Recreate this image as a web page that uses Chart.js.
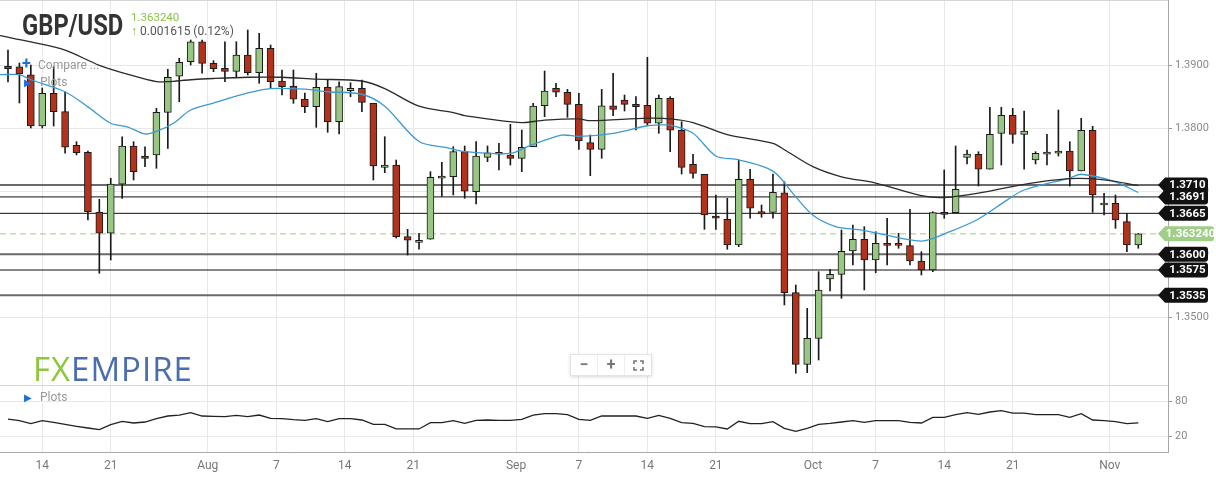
<!DOCTYPE html>
<html>
<head>
<meta charset="utf-8">
<script src="https://cdn.jsdelivr.net/npm/chart.js@4.4.1/dist/chart.umd.min.js"></script>
<style>
    body { margin: 0; background: #fff; font-family: Roboto, "Noto Sans", sans-serif; }
    #wrap { position: relative; width: 1216px; height: 481px; overflow: hidden; background: #fff; }
    canvas { position: absolute; left: 0; }
    #main { top: 0; }
    #sub { top: 386px; }
    .ov { position: absolute; white-space: nowrap; line-height: 1; }
    .sep { position: absolute; left: 0; width: 1168px; height: 1px; background: #d6d6d6; }
    #title { left: 22px; top: 11px; font-size: 29px; font-weight: 700; color: #333; transform: scaleX(0.82); transform-origin: left top; }
    #last { left: 131px; top: 12px; font-size: 11.5px; color: #8bc34a; }
    #chg { left: 131px; top: 25px; font-size: 12px; color: #555; }
    #chg .up { color: #6fb83a; font-weight: 700; margin-right: 3px; }
    .menu { font-size: 12px; color: #999; }
    .menu .plus { color: #1e6fd9; font-weight: 700; font-size: 16px; display: inline-block; width: 16px; }
    .menu .tri { color: #1e6fd9; font-size: 10px; display: inline-block; width: 16px; padding-left: 2px; }
    #logo { left: 33px; top: 352px; font-family: "Open Sans", sans-serif; font-size: 33px; color: #4a6db0; letter-spacing: 1px; }
    #logo .fx { color: #8dc63f; }
    #zoombox { left: 570px; top: 354px; width: 80px; height: 20px; background: #fff; border: 1px solid #e4e4e4;
               box-shadow: 0 1px 3px rgba(0,0,0,0.15); display: flex; }
    #zoombox span { flex: 1; text-align: center; color: #777; font-size: 16px; line-height: 20px; font-weight: 700; border-right: 1px solid #eee; }
    #zoombox span:last-child { border-right: none; }
</style>
</head>
<body>
<div id="wrap">
    <canvas id="main" width="1216" height="386"></canvas>
    <canvas id="sub" width="1216" height="95"></canvas>
    <div class="sep" style="top:0px"></div>
    <div class="sep" style="top:385px"></div>
    <div class="ov" id="title">GBP/USD</div>
    <div class="ov" id="last">1.363240</div>
    <div class="ov" id="chg"><span class="up">↑</span>0.001615 (0.12%)</div>
    <div class="ov menu" style="left:22px; top:56px"><span class="plus">+</span>Compare ...</div>
    <div class="ov menu" style="left:22px; top:76px"><span class="tri">▶</span>Plots</div>
    <div class="ov menu" style="left:22px; top:391px"><span class="tri">▶</span>Plots</div>
    <div class="ov" id="logo"><span class="fx">FX</span>EMPIRE</div>
    <div class="ov" id="zoombox">
        <span>−</span><span>+</span>
        <span><svg width="11" height="11" viewBox="0 0 11 11" style="vertical-align:-1px"><path d="M1 4V1h3M7 1h3v3M10 7v3H7M4 10H1V7" fill="none" stroke="#777" stroke-width="1.6"/></svg></span>
    </div>
</div>

<script>
// ---- daily candles, GBP/USD (one entry per session) ----
const opens = [
    1.38984, 1.38977, 1.38850, 1.38036, 1.38555, 1.38263, 1.37730, 1.37619, 1.36666, 1.36333,
    1.37111, 1.37719, 1.37560, 1.37576, 1.38253, 1.38825, 1.39057, 1.39374, 1.39031, 1.38952,
    1.38904, 1.39163, 1.38882, 1.39269, 1.38750, 1.38671, 1.38465, 1.38342, 1.38650, 1.38104,
    1.38596, 1.38634, 1.38396, 1.37380, 1.37417, 1.36279, 1.36190, 1.36238, 1.37206, 1.37231,
    1.37628, 1.36993, 1.37539, 1.37612, 1.37576, 1.37523, 1.37707, 1.38358, 1.38634, 1.38571,
    1.38380, 1.37771, 1.37666, 1.38358, 1.38449, 1.38380, 1.38364, 1.38079, 1.38476, 1.37968,
    1.37428, 1.37269, 1.36607, 1.36555, 1.36147, 1.37190, 1.36676, 1.36666, 1.36977, 1.35390,
    1.34253, 1.34666, 1.35607, 1.35682, 1.36052, 1.36238, 1.35909, 1.36174, 1.36174, 1.36136,
    1.35893, 1.35750, 1.36666, 1.36660, 1.37539, 1.37587, 1.37349, 1.37920, 1.38206, 1.37904,
    1.37496, 1.37587, 1.37603, 1.37639, 1.37322, 1.37968, 1.36782, 1.36809, 1.36517, 1.36147
];
const highs = [
    1.39242, 1.39036, 1.39004, 1.38639, 1.38977, 1.38580, 1.37787, 1.37639, 1.36872, 1.37206,
    1.37866, 1.37787, 1.37707, 1.38317, 1.38936, 1.39111, 1.39401, 1.39401, 1.39073, 1.39374,
    1.39374, 1.39560, 1.39507, 1.39322, 1.38925, 1.38925, 1.38560, 1.38873, 1.38777, 1.38739,
    1.38723, 1.38766, 1.38396, 1.37866, 1.37496, 1.36396, 1.36333, 1.37311, 1.37460, 1.37707,
    1.37719, 1.37787, 1.37719, 1.37761, 1.38063, 1.37972, 1.38396, 1.38909, 1.38714, 1.38618,
    1.38555, 1.37893, 1.38618, 1.38873, 1.38528, 1.38501, 1.39127, 1.38528, 1.38501, 1.38104,
    1.37587, 1.37269, 1.36941, 1.36888, 1.37496, 1.37349, 1.36782, 1.37274, 1.37152, 1.35512,
    1.35142, 1.35724, 1.35761, 1.36385, 1.36465, 1.36438, 1.36358, 1.36571, 1.36333, 1.36714,
    1.36041, 1.36676, 1.37338, 1.37719, 1.37655, 1.37628, 1.38333, 1.38333, 1.38317, 1.38274,
    1.37628, 1.37904, 1.38290, 1.37787, 1.38158, 1.38031, 1.36968, 1.36941, 1.36650, 1.36330
];
const lows = [
    1.38734, 1.38401, 1.38004, 1.38004, 1.38036, 1.37603, 1.37576, 1.36544, 1.35698, 1.35909,
    1.36888, 1.37179, 1.37390, 1.37365, 1.37682, 1.38422, 1.39004, 1.38873, 1.38898, 1.38739,
    1.38818, 1.38846, 1.38714, 1.38634, 1.38528, 1.38396, 1.38247, 1.38015, 1.37936, 1.37909,
    1.38501, 1.38263, 1.37179, 1.37295, 1.36258, 1.35988, 1.36079, 1.36238, 1.36917, 1.36941,
    1.36888, 1.36798, 1.37469, 1.37338, 1.37417, 1.37311, 1.37707, 1.38184, 1.38501, 1.38174,
    1.37666, 1.37247, 1.37523, 1.38200, 1.38274, 1.37972, 1.38052, 1.37920, 1.37628, 1.37274,
    1.37206, 1.36396, 1.36396, 1.36079, 1.36120, 1.36571, 1.36587, 1.36571, 1.35195, 1.34111,
    1.34120, 1.34322, 1.35417, 1.35301, 1.35830, 1.35433, 1.35707, 1.35830, 1.36095, 1.35830,
    1.35671, 1.35723, 1.36571, 1.36655, 1.37433, 1.37083, 1.37349, 1.37417, 1.37761, 1.37349,
    1.37433, 1.37417, 1.37560, 1.37083, 1.37322, 1.36666, 1.36623, 1.36412, 1.36041, 1.36095
];
const closes = [
    1.38946, 1.38861, 1.38036, 1.38555, 1.38263, 1.37698, 1.37612, 1.36676, 1.36333, 1.37115,
    1.37719, 1.37311, 1.37523, 1.38253, 1.38809, 1.39047, 1.39374, 1.39031, 1.38946, 1.38904,
    1.39163, 1.38882, 1.39269, 1.38739, 1.38660, 1.38460, 1.38342, 1.38650, 1.38104, 1.38660,
    1.38634, 1.38412, 1.37401, 1.37417, 1.36279, 1.36222, 1.36222, 1.37222, 1.37242, 1.37628,
    1.37000, 1.37560, 1.37612, 1.37587, 1.37523, 1.37698, 1.38353, 1.38592, 1.38571, 1.38380,
    1.37798, 1.37666, 1.38358, 1.38301, 1.38380, 1.38342, 1.38079, 1.38476, 1.37968, 1.37380,
    1.37285, 1.36623, 1.36571, 1.36147, 1.37190, 1.36730, 1.36639, 1.36984, 1.35390, 1.34253,
    1.34666, 1.35433, 1.35682, 1.36047, 1.36238, 1.35909, 1.36174, 1.36142, 1.36142, 1.35893,
    1.35750, 1.36660, 1.36634, 1.37031, 1.37591, 1.37349, 1.37904, 1.38206, 1.37904, 1.37957,
    1.37603, 1.37623, 1.37639, 1.37322, 1.37968, 1.36941, 1.36809, 1.36544, 1.36147, 1.36324
];

// ---- moving averages (position in sessions, value) ----
const maSlowX = [-0.7, 2, 5, 8, 11, 13, 14, 16, 18, 21, 24, 27, 31, 33, 36, 39, 40, 45, 47, 50,
                 51, 56, 58, 60, 63, 67, 68, 70.5, 73, 76, 80, 82, 85, 89, 93, 96, 99];
const maSlowY = [1.3947, 1.3937, 1.3924, 1.3900, 1.3883, 1.3874, 1.3874, 1.3877, 1.3879, 1.3881,
                 1.3881, 1.3878, 1.3875, 1.3863, 1.3835, 1.3825, 1.3820, 1.3809, 1.3813, 1.3815,
                 1.3812, 1.3816, 1.3815, 1.3809, 1.3790, 1.3776, 1.3766, 1.3739, 1.3723, 1.3713,
                 1.3693, 1.3690, 1.3697, 1.3711, 1.3720, 1.3718, 1.3709];
const maFastX = [-0.7, 1, 2, 5, 7, 9, 10.5, 12, 13, 14.5, 16, 18, 21, 23, 26, 28, 31, 33, 36, 38.5,
                 40, 44, 45.5, 48.5, 50, 53, 56, 57, 58, 60, 62, 64, 67, 69, 70.5, 72.5, 74.5, 76,
                 80, 82.5, 85, 87.5, 89, 93, 94, 97, 99];
const maFastY = [1.3885, 1.3885, 1.3877, 1.3858, 1.3834, 1.3808, 1.3802, 1.3791, 1.3795, 1.3808,
                 1.3829, 1.3840, 1.3856, 1.3863, 1.3862, 1.3858, 1.3854, 1.3835, 1.3779, 1.3769,
                 1.3763, 1.3760, 1.3771, 1.3789, 1.3787, 1.3792, 1.3804, 1.3805, 1.3805, 1.3792,
                 1.3756, 1.3750, 1.3732, 1.3691, 1.3662, 1.3644, 1.3639, 1.3634, 1.3621, 1.3636,
                 1.3656, 1.3686, 1.3702, 1.3721, 1.3727, 1.3715, 1.3698];

// ---- oscillator in lower panel ----
const oscValues = [
    49.5, 47.0, 41.6, 46.8, 43.9, 40.4, 37.0, 34.0, 31.1, 39.8,
    45.7, 42.8, 44.5, 50.3, 55.0, 56.7, 60.8, 55.0, 54.4, 53.8,
    56.2, 53.8, 56.7, 50.9, 50.3, 48.6, 47.4, 50.3, 45.1, 50.3,
    50.3, 48.0, 40.4, 40.4, 32.3, 32.3, 32.3, 43.3, 43.3, 46.8,
    42.2, 47.4, 48.0, 47.4, 47.4, 49.2, 56.7, 59.1, 59.1, 57.3,
    49.2, 47.4, 55.0, 55.0, 55.0, 55.0, 50.9, 56.2, 50.9, 43.3,
    42.2, 36.4, 35.8, 32.3, 45.7, 41.6, 41.6, 45.1, 33.5, 28.2,
    33.5, 40.4, 42.2, 44.5, 46.8, 43.9, 46.8, 46.8, 46.8, 43.9,
    42.8, 52.7, 52.7, 57.3, 60.8, 57.9, 62.0, 64.3, 60.2, 60.2,
    57.3, 57.3, 57.3, 52.7, 59.1, 48.0, 46.8, 45.1, 41.6, 42.8
];

// ---- support / resistance levels and last price ----
const levels = [1.3710, 1.3691, 1.3665, 1.3600, 1.3575, 1.3535];
const lastPrice = 1.36324;

// ---- axes ----
const dateTickPos = [3, 9, 17.5, 23.5, 29.5, 35.5, 44.5, 50, 56, 62, 70.5, 76, 82, 88, 96.5];
const dateTickLabels = ['14', '21', 'Aug', '7', '14', '21', 'Sep', '7', '14', '21', 'Oct', '7', '14', '21', 'Nov'];
const priceTicks = [1.35, 1.36, 1.37, 1.38, 1.39];
const oscTicks = [20, 80];

// --- layout / style ---
const X_MIN = -0.7, X_MAX = 101.6;
const Y_MAX = 1.40036, Y_MIN = 1.33909;
const UP = '#98c784', DOWN = '#b3321b';
const GRID = '#e8e8e8';
const heavyLevels = [1.3710, 1.3600, 1.3535];

const wickData = lows.map((l, i) => ({ x: i, y: [l, highs[i]] }));
const bodyData = opens.map((o, i) => ({ x: i, y: [o, closes[i]] }));
const bodyColors = opens.map((o, i) => closes[i] >= o ? UP : DOWN);

const levelSets = levels.map(lv => ({
    type: 'line',
    data: [{ x: X_MIN, y: lv }, { x: X_MAX, y: lv }],
    borderColor: heavyLevels.includes(lv) ? '#6a6a6a' : '#111',
    borderWidth: heavyLevels.includes(lv) ? 2 : 1,
    pointRadius: 0,
    order: 5
}));

const rightAxisFit = (w) => (s) => { s.width = w; s.paddingTop = 0; s.paddingBottom = 0; };

function drawBadge(ctx, y, text, fill, right) {
    const tip = 1158, left = 1165, h = 15, r = 3;
    ctx.save();
    ctx.fillStyle = fill;
    ctx.beginPath();
    ctx.moveTo(tip, y);
    ctx.lineTo(left, y - h / 2);
    ctx.lineTo(right - r, y - h / 2);
    ctx.quadraticCurveTo(right, y - h / 2, right, y - h / 2 + r);
    ctx.lineTo(right, y + h / 2 - r);
    ctx.quadraticCurveTo(right, y + h / 2, right - r, y + h / 2);
    ctx.lineTo(left, y + h / 2);
    ctx.closePath();
    ctx.fill();
    ctx.fillStyle = '#fff';
    ctx.font = 'bold 11.5px Roboto, sans-serif';
    ctx.textAlign = 'center';
    ctx.textBaseline = 'middle';
    ctx.fillText(text, (left + right) / 2 + 1, y + 0.5);
    ctx.restore();
}

const badgePlugin = {
    id: 'badges',
    afterDraw(chart) {
        const ctx = chart.ctx, ys = chart.scales.y;
        levels.forEach(lv => drawBadge(ctx, ys.getPixelForValue(lv), lv.toFixed(4), '#111', 1208));
        drawBadge(ctx, ys.getPixelForValue(lastPrice), lastPrice.toFixed(6), '#9fce86', 1214);
    }
};

new Chart(document.getElementById('main'), {
    type: 'bar',
    data: {
        datasets: [
            {
                type: 'line', label: 'MA slow',
                data: maSlowX.map((x, i) => ({ x, y: maSlowY[i] })),
                borderColor: '#2a2a2a', borderWidth: 1.3, pointRadius: 0, tension: 0.3, order: 0
            },
            {
                type: 'line', label: 'MA fast',
                data: maFastX.map((x, i) => ({ x, y: maFastY[i] })),
                borderColor: '#3b9ad2', borderWidth: 1.3, pointRadius: 0, tension: 0.3, order: 0
            },
            {
                label: 'bodies', data: bodyData,
                backgroundColor: bodyColors, borderColor: '#1a1a1a', borderWidth: 1,
                borderSkipped: false, barThickness: 7, minBarLength: 2, grouped: false, order: 1
            },
            {
                label: 'wicks', data: wickData,
                backgroundColor: '#1a1a1a', barThickness: 1, grouped: false, order: 2
            },
            {
                type: 'line', label: 'last',
                data: [{ x: X_MIN, y: lastPrice }, { x: X_MAX, y: lastPrice }],
                borderColor: '#9fce86', borderWidth: 1, borderDash: [6, 4], pointRadius: 0, order: 4
            },
            ...levelSets
        ]
    },
    options: {
        responsive: false,
        animation: false,
        devicePixelRatio: 1,
        events: [],
        layout: { padding: 0 },
        plugins: { legend: { display: false }, tooltip: { enabled: false } },
        scales: {
            x: {
                type: 'linear', min: X_MIN, max: X_MAX, offset: false,
                afterBuildTicks: s => { s.ticks = dateTickPos.map(v => ({ value: v })); },
                ticks: { display: false },
                grid: { color: GRID, drawTicks: false, offset: false },
                border: { display: false },
                afterFit: s => { s.height = 0; s.paddingLeft = 0; s.paddingRight = 0; }
            },
            y: {
                position: 'right', min: Y_MIN, max: Y_MAX,
                afterBuildTicks: s => { s.ticks = priceTicks.map(v => ({ value: v })); },
                ticks: { color: '#8a8a8a', font: { family: 'Roboto', size: 11 }, padding: 3, callback: v => v.toFixed(4) },
                grid: { color: GRID, tickLength: 4, tickColor: '#999' },
                border: { color: '#a8a8a8' },
                afterFit: rightAxisFit(48)
            }
        }
    },
    plugins: [badgePlugin]
});

new Chart(document.getElementById('sub'), {
    type: 'line',
    data: {
        datasets: [{
            label: 'oscillator',
            data: oscValues.map((v, i) => ({ x: i, y: v })),
            borderColor: '#222', borderWidth: 1.3, pointRadius: 0, tension: 0
        }]
    },
    options: {
        responsive: false,
        animation: false,
        devicePixelRatio: 1,
        events: [],
        layout: { padding: 0 },
        plugins: { legend: { display: false }, tooltip: { enabled: false } },
        scales: {
            x: {
                type: 'linear', min: X_MIN, max: X_MAX, offset: false,
                afterBuildTicks: s => { s.ticks = dateTickPos.map(v => ({ value: v })); },
                ticks: { color: '#777', font: { family: 'Roboto', size: 12 }, padding: 7, maxRotation: 0, autoSkip: false,
                         callback: (v, i) => dateTickLabels[i] },
                grid: { color: GRID, drawTicks: false },
                border: { color: '#a8a8a8' },
                afterFit: s => { s.height = 29; s.paddingLeft = 0; s.paddingRight = 0; }
            },
            y: {
                position: 'right', min: -8, max: 107.5,
                afterBuildTicks: s => { s.ticks = oscTicks.map(v => ({ value: v })); },
                ticks: { color: '#8a8a8a', font: { family: 'Roboto', size: 11 }, padding: 3 },
                grid: { color: GRID, tickLength: 4, tickColor: '#999' },
                border: { color: '#a8a8a8' },
                afterFit: rightAxisFit(48)
            }
        }
    }
});
</script>
</body>
</html>
